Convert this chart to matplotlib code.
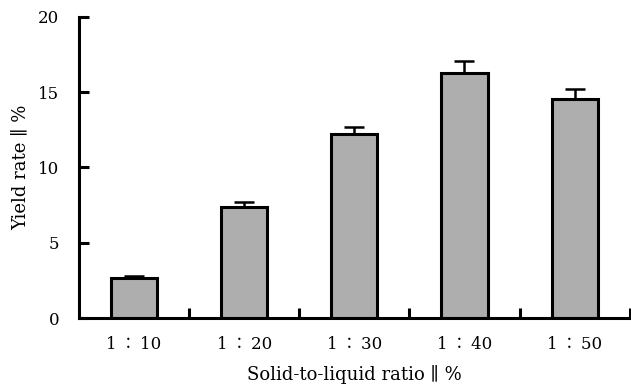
import matplotlib.pyplot as plt
import numpy as np

ratios = ['1\u2009∶\u200910', '1\u2009∶\u200920', '1\u2009∶\u200930',
          '1\u2009∶\u200940', '1\u2009∶\u200950']
yield_rate = [2.65, 7.35, 12.2, 16.3, 14.55]
yield_err = [0.12, 0.33, 0.5, 0.75, 0.65]

plt.rcParams['font.family'] = ['DejaVu Serif', 'Noto Sans CJK SC']

fig = plt.figure(figsize=(6.31, 3.85), dpi=100)
ax = fig.add_axes([0.125, 0.174, 0.873, 0.782])

x = np.arange(len(ratios))
ax.bar(x, yield_rate, width=0.42, color='#aeaeae', edgecolor='black',
       linewidth=2.2, zorder=2)
ax.errorbar(x, yield_rate, yerr=[np.zeros(len(x)), yield_err], fmt='none',
            ecolor='black', elinewidth=1.8, capsize=7, capthick=1.8, zorder=1)

ax.set_xlim(-0.5, len(ratios) - 0.5)
ax.set_ylim(0, 20)
ax.set_yticks([0, 5, 10, 15, 20])
ax.set_xticks(x)
ax.set_xticklabels(ratios)
ax.set_xticks(np.arange(len(ratios)) + 0.5, minor=True)

for s in ('top', 'right'):
    ax.spines[s].set_visible(False)
for s in ('left', 'bottom'):
    ax.spines[s].set_linewidth(2.2)

ax.tick_params(axis='y', direction='in', length=7, width=2.2, labelsize=12, pad=14)
ax.tick_params(axis='x', which='major', length=0, labelsize=12, pad=13)
ax.tick_params(axis='x', which='minor', direction='in', length=7, width=2.2)

ax.set_ylabel('Yield rate ∥ %', fontsize=13)
ax.yaxis.set_label_coords(-0.09, 0.5)
ax.set_xlabel('Solid-to-liquid ratio ∥ %', fontsize=13)
ax.xaxis.set_label_coords(0.5, -0.155)

fig.savefig('out.png', dpi=100)
